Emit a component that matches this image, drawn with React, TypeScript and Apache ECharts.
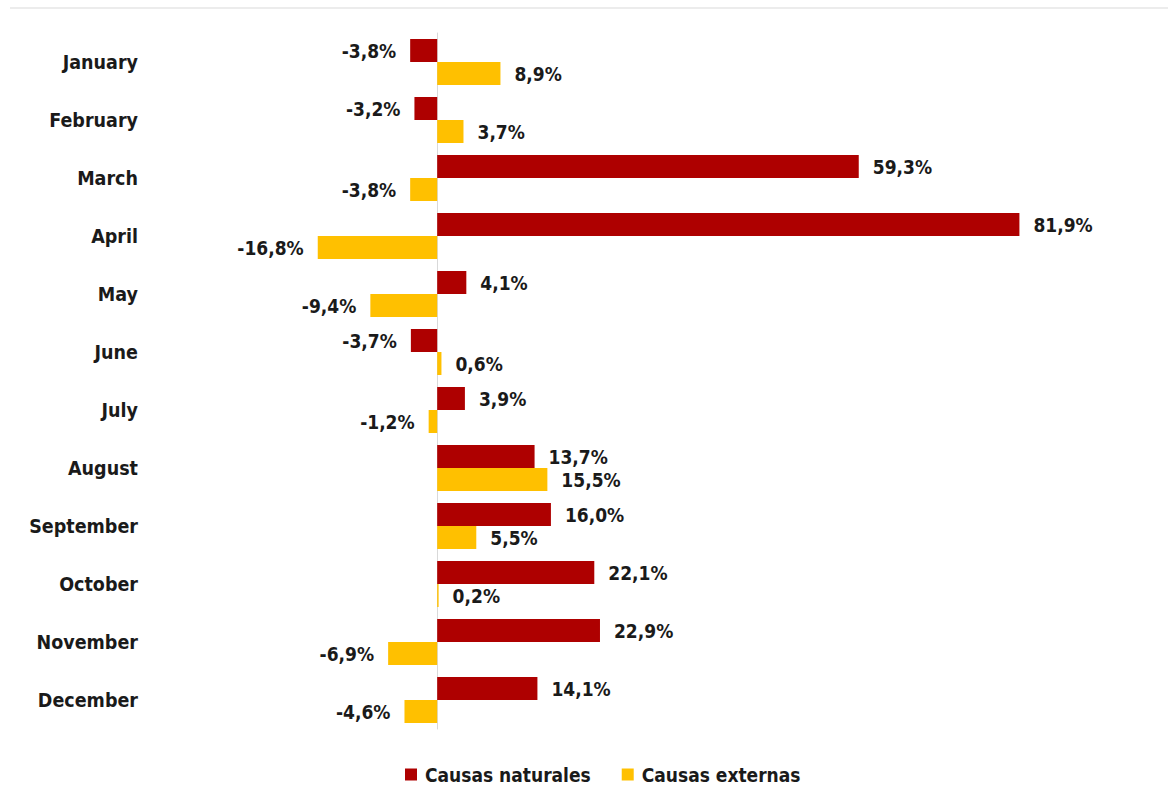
import React, { useEffect, useRef } from "react";
import * as echarts from "echarts";

const months = ["January", "February", "March", "April", "May", "June", "July", "August", "September", "October", "November", "December"];
const naturales = [-3.8, -3.2, 59.3, 81.9, 4.1, -3.7, 3.9, 13.7, 16.0, 22.1, 22.9, 14.1];
const externas = [8.9, 3.7, -3.8, -16.8, -9.4, 0.6, -1.2, 15.5, 5.5, 0.2, -6.9, -4.6];
const seriesNames = ["Causas naturales", "Causas externas"];
const colors = ["#AE0000", "#FFC000"];

const FONT = "'DejaVu Sans Condensed', 'DejaVu Sans', sans-serif";

const fmt = (v: number) => v.toFixed(1).replace(".", ",") + "%";

const toItems = (arr: number[]) =>
  arr.map((v) => ({ value: v, label: { position: v < 0 ? "left" : "right" } }));

export default function App() {
  const ref = useRef<HTMLDivElement>(null);
  useEffect(() => {
    if (!ref.current) return;
    const chart = echarts.init(ref.current, undefined, { renderer: "svg" });
    const labelCfg = {
      show: true,
      distance: 14,
      color: "#1a1a1a",
      fontFamily: FONT,
      fontWeight: "bold",
      fontSize: 19,
      formatter: (p: any) => fmt(p.value),
    };
    chart.setOption({
      animation: false,
      graphic: [
        {
          type: "line",
          shape: { x1: 10, y1: 8, x2: 1168, y2: 8 },
          style: { stroke: "#d9d9d9", lineWidth: 1 },
        },
      ],
      grid: { left: 295, right: 91, top: 33, bottom: 73, containLabel: false, outerBoundsMode: "none" },
      xAxis: {
        type: "value",
        min: -20,
        max: 90,
        show: false,
        splitLine: { show: false },
      },
      yAxis: {
        type: "category",
        data: months,
        inverse: true,
        axisLine: { show: true, onZero: true, lineStyle: { color: "#d9d9d9", width: 1 } },
        axisTick: { show: false },
        axisLabel: {
          margin: 157,
          color: "#1a1a1a",
          fontFamily: FONT,
          fontWeight: "bold",
          fontSize: 19.5,
        },
      },
      legend: {
        bottom: 13,
        left: 400,
        icon: "rect",
        itemWidth: 12,
        itemHeight: 12,
        itemGap: 31,
        textStyle: { fontFamily: FONT, fontWeight: "bold", fontSize: 19, color: "#1a1a1a", padding: [0, 0, 0, 3] },
        data: seriesNames,
      },
      series: [
        {
          name: seriesNames[0],
          type: "bar",
          data: toItems(naturales),
          barWidth: 23,
          barGap: "0%",
          itemStyle: { color: colors[0] },
          label: labelCfg,
        },
        {
          name: seriesNames[1],
          type: "bar",
          data: toItems(externas),
          barWidth: 23,
          barGap: "0%",
          itemStyle: { color: colors[1] },
          label: labelCfg,
        },
      ],
    });
    return () => chart.dispose();
  }, []);
  return (
    <div
      ref={ref}
      style={{ position: "fixed", left: 0, top: 0, width: 1168, height: 802, background: "#fff" }}
    />
  );
}
